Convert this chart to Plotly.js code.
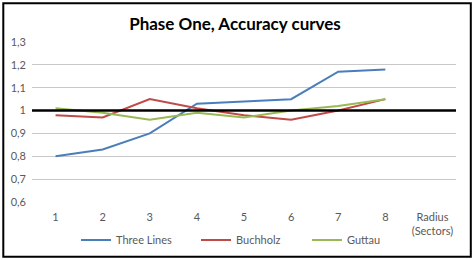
<!DOCTYPE html>
<html><head><meta charset="utf-8">
<script src="https://cdn.plot.ly/plotly-3.0.1.min.js"></script>
<style>html,body{margin:0;padding:0;background:#fff}#chart{width:474px;height:260px}</style>
</head><body><div id="chart"></div>
<script>
const categories = ["1","2","3","4","5","6","7","8"];
const axisEndLabel = "Radius<br>(Sectors)";
const threeLines = [0.80, 0.83, 0.90, 1.03, 1.04, 1.05, 1.17, 1.18];
const buchholz   = [0.98, 0.97, 1.05, 1.01, 0.98, 0.96, 1.00, 1.05];
const guttau     = [1.01, 0.99, 0.96, 0.99, 0.97, 1.00, 1.02, 1.05];
const yTicks = [0.6, 0.7, 0.8, 0.9, 1.0, 1.1, 1.2, 1.3];
const referenceLevel = 1;

const W = 474, H = 260, L = 32, R = 18, T = 42, B = 58;
const pw = W - L - R, ph = H - T - B;
const px = v => (v - L) / pw;
const py = v => (H - B - v) / ph;

const fontFam = 'Lato, "Open Sans", "Liberation Sans", sans-serif';
const allCats = categories.concat([axisEndLabel]);

const series = [
  {name: "Three Lines", y: threeLines, color: "#4A7EBB", legend: "legend",  lx: 76},
  {name: "Buchholz",    y: buchholz,   color: "#BE4B48", legend: "legend2", lx: 196},
  {name: "Guttau",      y: guttau,     color: "#98B954", legend: "legend3", lx: 307}
];

const traces = series.map(s => ({
  type: "scatter", mode: "lines", x: categories, y: s.y, name: s.name, legend: s.legend,
  line: {color: s.color, width: 2}, hoverinfo: "skip"
}));

const legendBase = lx => ({
  orientation: "h", x: px(lx), xanchor: "left", y: py(240), yanchor: "middle",
  itemwidth: 30, font: {size: 11, color: "#595959"}, bgcolor: "rgba(0,0,0,0)"
});

const layout = {
  width: W, height: H,
  margin: {l: L, r: R, t: T, b: B, pad: 0, autoexpand: false},
  paper_bgcolor: "#fff", plot_bgcolor: "#fff",
  separators: ", ",
  font: {family: fontFam, size: 11, color: "#595959"},
  title: {text: "<b>Phase One, Accuracy curves</b>", x: 235 / W, xref: "container", xanchor: "center",
          y: 1 - 24 / H, yref: "container", yanchor: "middle", automargin: false,
          font: {family: fontFam, size: 17, color: "#000"}},
  xaxis: {type: "category", categoryorder: "array", categoryarray: allCats, automargin: false,
          range: [-0.5, allCats.length - 0.5], showgrid: false, zeroline: false,
          showline: false, ticks: "", ticklabelstandoff: 7,
          tickfont: {size: 11, color: "#595959"}, fixedrange: true},
  yaxis: {range: [yTicks[0], yTicks[yTicks.length - 1]], tickvals: yTicks, showgrid: true, automargin: false,
          gridcolor: "#C8C8C8", gridwidth: 1, zeroline: false, showline: false, ticks: "",
          ticklabelstandoff: 5, tickfont: {size: 11, color: "#595959"}, fixedrange: true},
  showlegend: true,
  legend: legendBase(series[0].lx),
  legend2: legendBase(series[1].lx),
  legend3: legendBase(series[2].lx),
  shapes: [
    {type: "line", xref: "paper", yref: "y", x0: 0, x1: 1, y0: referenceLevel, y1: referenceLevel,
     line: {color: "#000", width: 2.5}},
    {type: "rect", xref: "paper", yref: "paper", x0: px(3.3), x1: px(470.8), y0: py(256.8), y1: py(3.3),
     line: {color: "#000", width: 2}, fillcolor: "rgba(0,0,0,0)"}
  ]
};

Plotly.newPlot("chart", traces, layout, {displayModeBar: false, staticPlot: true});
</script></body></html>
